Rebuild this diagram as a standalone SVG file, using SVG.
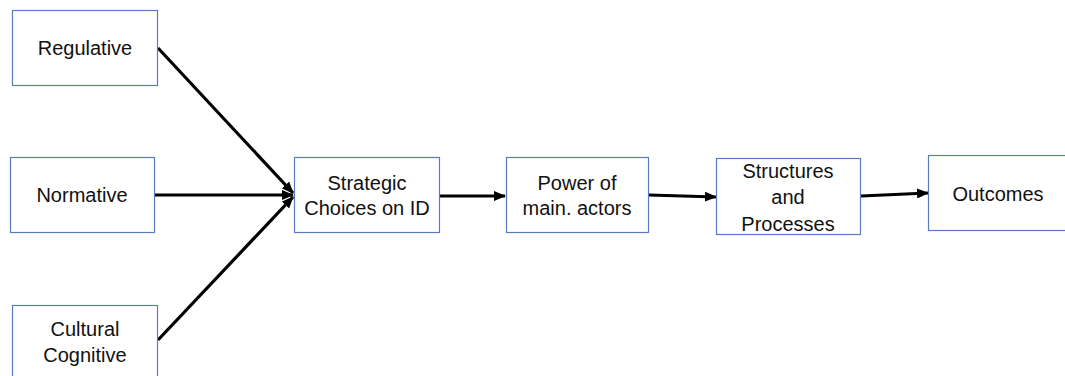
<svg xmlns="http://www.w3.org/2000/svg" width="1065" height="376" viewBox="0 0 1065 376">
<defs>
<marker id="ah" markerWidth="12" markerHeight="10" refX="11" refY="5" orient="auto" markerUnits="userSpaceOnUse">
<path d="M0,0 L12,5 L0,10 Z" fill="#000"/>
</marker>
<style>
.box{fill:#fff;stroke:#5a7bbd;stroke-width:1.2}
.t{font-family:"Liberation Sans",Arial,sans-serif;font-size:20px;fill:#111;text-anchor:middle;dominant-baseline:central}
.c{stroke:#000;stroke-width:3.2;fill:none;marker-end:url(#ah)}
</style>
</defs>
<rect width="1065" height="376" fill="#fff"/>
<g id="connectors">
<line class="c" x1="158" y1="48" x2="293" y2="193"/>
<line class="c" x1="155" y1="195" x2="293" y2="195"/>
<line class="c" x1="158" y1="340" x2="293" y2="197"/>
<line class="c" x1="439" y1="196" x2="505" y2="196"/>
<line class="c" x1="649" y1="195" x2="716" y2="197"/>
<line class="c" x1="861" y1="196" x2="928" y2="193"/>
</g>
<g id="regulative"><rect class="box" x="12.5" y="10.5" width="145" height="75"/><text class="t" x="85" y="48">Regulative</text></g>
<g id="normative"><rect class="box" x="10.5" y="157.5" width="144" height="75"/><text class="t" x="82" y="195">Normative</text></g>
<g id="cultural"><rect class="box" x="12.5" y="305.5" width="145" height="80"/><text class="t" x="85" y="329">Cultural</text><text class="t" x="85" y="355">Cognitive</text></g>
<g id="strategic"><rect class="box" x="294.5" y="157.5" width="145" height="75"/><text class="t" x="367" y="183">Strategic</text><text class="t" x="367" y="208">Choices on ID</text></g>
<g id="power"><rect class="box" x="506.5" y="157.5" width="142" height="75"/><text class="t" x="577" y="183">Power of</text><text class="t" x="577" y="208">main. actors</text></g>
<g id="structures"><rect class="box" x="716.5" y="158.5" width="144" height="76"/><text class="t" x="788" y="171">Structures</text><text class="t" x="788" y="197">and</text><text class="t" x="788" y="224">Processes</text></g>
<g id="outcomes"><rect class="box" x="928.5" y="155.5" width="145" height="75"/><text class="t" x="998" y="194">Outcomes</text></g>
</svg>
